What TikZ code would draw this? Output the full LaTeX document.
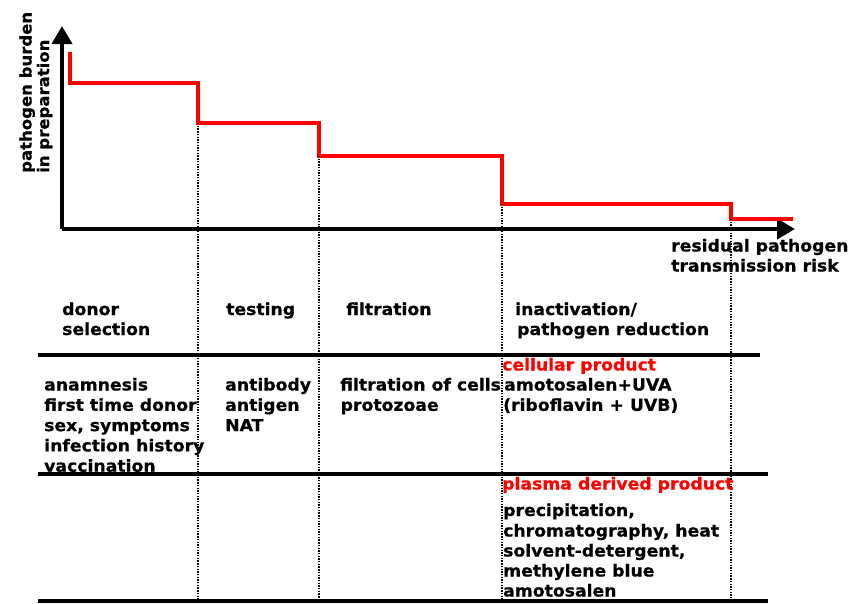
\documentclass[tikz,border=0pt]{standalone}
\usepackage{fontspec}
\setmainfont{DejaVu Sans}[FakeStretch=1.045, BoldFeatures={FakeBold=0.6}]
\usetikzlibrary{arrows.meta}
\definecolor{redline}{RGB}{255,0,0}
\begin{document}
\begin{tikzpicture}[x=1pt,y=-1pt,
  txt/.style={font=\bfseries\fontsize{16.5}{20}\selectfont, inner sep=0pt, anchor=base west},
  ylab/.style={txt, font=\bfseries\fontsize{15.8}{20}\selectfont, rotate=90},
  redtxt/.style={txt, text=redline},
  axis/.style={line width=3.8pt, -{Triangle[length=18pt,width=20pt]}},
  burden/.style={line width=4pt, redline},
  rule/.style={line width=3.5pt},
  sep/.style={line width=1.5pt, dash pattern=on 1.4pt off 1.3pt}]
\useasboundingbox (0,0) rectangle (857,603);
% axes
\coordinate (o) at (62,229);
\coordinate (ytip) at (62,26);
\coordinate (xtip) at (795,229);
\draw[axis] (o) -- (ytip);
\draw[axis] (o) -- (xtip);
% red burden curve
\coordinate (r0) at (70,52);
\coordinate (r1) at (198,83);
\coordinate (r2) at (319,123);
\coordinate (r3) at (502,156);
\coordinate (r4) at (731,204);
\coordinate (r5) at (793,219);
\draw[burden] (r0) |- (r1) |- (r2) |- (r3) |- (r4) |- (r5);
% dotted separators
\coordinate (d1b) at (198,601);
\coordinate (d2b) at (319,601);
\coordinate (d3b) at (502,601);
\coordinate (d4b) at (731,601);
\coordinate (d1t) at (198,123);
\coordinate (d2t) at (319,156);
\coordinate (d3t) at (502,204);
\coordinate (d4t) at (731,219);
\draw[sep] (d1t) -- (d1b);
\draw[sep] (d2t) -- (d2b);
\draw[sep] (d3t) -- (d3b);
\draw[sep] (d4t) -- (d4b);
% horizontal rules
\coordinate (h1a) at (38,355); \coordinate (h1b) at (760,355);
\coordinate (h2a) at (38,474); \coordinate (h2b) at (768,474);
\coordinate (h3a) at (38,601); \coordinate (h3b) at (768,601);
\draw[rule] (h1a) -- (h1b);
\draw[rule] (h2a) -- (h2b);
\draw[rule] (h3a) -- (h3b);
% axis labels
\node[ylab] (yl1) at (31.5,173) {pathogen burden};
\node[ylab] (yl2) at (49,173) {in preparation};
\node[txt] (xl1) at (671,251.5) {residual pathogen};
\node[txt] (xl2) at (671,271.5) {transmission risk};
% headers
\node[txt] (h1) at (62,315) {donor};
\node[txt] (h1b2) at (62,335) {selection};
\node[txt] (h2) at (226,315) {testing};
\node[txt] (h3) at (346,315) {filtration};
\node[txt] (h4) at (515,315) {inactivation/};
\node[txt] (h4b) at (517,335) {pathogen reduction};
% row 1
\node[txt] (a1) at (44,390.5) {anamnesis};
\node[txt] (a2) at (44,410.8) {first time donor};
\node[txt] (a3) at (44,431.1) {sex, symptoms};
\node[txt] (a4) at (44,451.4) {infection history};
\node[txt] (a5) at (44,471.7) {vaccination};
\node[txt] (b1) at (225,390.5) {antibody};
\node[txt] (b2) at (225,410.8) {antigen};
\node[txt] (b3) at (225,431.1) {NAT};
\node[txt] (c1) at (340,390.5) {filtration of cells};
\node[txt] (c2) at (340.5,410.8) {protozoae};
\node[redtxt] (e0) at (502,370.5) {cellular product};
\node[txt] (e1) at (504,390.5) {amotosalen+UVA};
\node[txt] (e2) at (503,410.8) {(riboflavin + UVB)};
% row 2
\node[redtxt] (p0) at (502,489.5) {plasma derived product};
\node[txt] (p1) at (503,516) {precipitation,};
\node[txt] (p2) at (503,536.5) {chromatography, heat};
\node[txt] (p3) at (503,556.5) {solvent-detergent,};
\node[txt] (p4) at (503,576.5) {methylene blue};
\node[txt] (p5) at (503,596.5) {amotosalen};
\end{tikzpicture}
\end{document}
